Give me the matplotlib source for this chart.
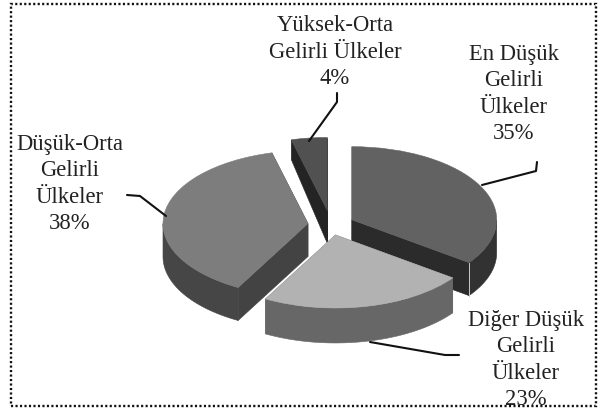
#!/usr/bin/env python3
"""Exploded pseudo-3D pie of country income groups."""

import matplotlib

matplotlib.use("Agg")

import matplotlib.pyplot as plt
import numpy as np
from matplotlib.patches import Polygon, Rectangle

labels = ["En Düşük\nGelirli\nÜlkeler\n35%", "Diğer Düşük\nGelirli\nÜlkeler\n23%",
          "Düşük-Orta\nGelirli\nÜlkeler\n38%", "Yüksek-Orta\nGelirli Ülkeler\n4%"]
values = [35, 23, 38, 4]
explode = [0.16, 0.14, 0.16, 0.20]
top_colors = ["#626262", "#b2b2b2", "#7d7d7d", "#515151"]
side_colors = ["#323232", "#676767", "#464646", "#262626"]
wall_colors = ["#2b2b2b", "#676767", "#434343", "#242424"]
draw_order = [3, 0, 2, 1]
depths_px = [33, 35, 33, 33]

label_pos = [(514, 94), (526, 360), (70, 184), (335, 52)]
leaders = [
    [(482, 186), (536, 172), (537, 163)],
    [(370, 343), (445, 356), (459, 356)],
    [(166, 217), (140, 197), (127, 196)],
    [(309, 142), (337, 103), (337, 94)],
]

W, H = 599, 414
CX, CY = 331, 226
RX, RY = 145, 73


def to_data(x_px, y_px):
    return (x_px - CX) / RX, (CY - y_px) / RY


def arc_points(center, r, theta1, theta2, n=80):
    t = np.radians(np.linspace(theta1, theta2, n))
    return np.column_stack([center[0] + r * np.cos(t), center[1] + r * np.sin(t)])


def add_extrusion(ax, wedge, side, wall, depth, z, edge_drop=1.0, seam=False):
    cx, cy = wedge.center
    r = wedge.r
    t1, t2 = wedge.theta1, wedge.theta2
    down = np.array([0, depth])
    apex = np.array([cx, cy])

    # radial walls first, the outer wall and the top face paint over them
    for t in (t1, t2):
        edge = arc_points((cx, cy), r, t, t, 1)[0]
        corners = [apex, edge, edge - down * edge_drop, apex - down]
        ax.add_patch(Polygon(corners, fc=wall, ec=wall, lw=0.4, zorder=z))

    arc = arc_points((cx, cy), r, t1, t2, 160)
    front = arc[arc[:, 1] <= cy + 1e-9]
    if len(front) > 1:
        ax.add_patch(Polygon(np.vstack([front, (front - down)[::-1]]), fc=side, ec=side, lw=0.4, zorder=z + 0.1))

    if seam:
        edge = arc_points((cx, cy), r, t1, t1, 1)[0]
        ax.plot([edge[0], edge[0]], [edge[1], edge[1] - depth], color="#c8c8c8", lw=0.7, zorder=z + 0.15)


def main() -> int:
    plt.rcParams["font.family"] = ["Liberation Serif", "DejaVu Serif"]
    fig = plt.figure(figsize=(W / 100, H / 100), dpi=100)
    ax = fig.add_axes([0, 0, 1, 1])

    wedges, _ = ax.pie(values, explode=explode, colors=top_colors, startangle=90, counterclock=False)
    ax.set_aspect("auto")
    x0, y0 = to_data(0, H)
    x1, y1 = to_data(W, 0)
    ax.set_xlim(x0, x1)
    ax.set_ylim(y0, y1)
    ax.axis("off")

    for rank, i in enumerate(draw_order):
        z = 2 + rank
        add_extrusion(ax, wedges[i], side_colors[i], wall_colors[i], depths_px[i] / RY, z,
                      edge_drop=0.6 if i == 3 else 1.0, seam=i == 0)
        wedges[i].set_zorder(z + 0.2)
        wedges[i].set_edgecolor(top_colors[i])
        wedges[i].set_linewidth(0.4)

    for path in leaders:
        pts = np.array([to_data(*p) for p in path])
        ax.plot(pts[:, 0], pts[:, 1], color="#111111", lw=1.5, solid_capstyle="round", zorder=10)

    for text, pos in zip(labels, label_pos):
        x, y = to_data(*pos)
        ax.text(x, y, text, ha="center", va="center", fontsize=16.3, color="#222222",
                linespacing=1.32, zorder=11)

    bx0, by0 = to_data(11, 407)
    bx1, by1 = to_data(596, 5)
    ax.add_patch(Rectangle((bx0, by0), bx1 - bx0, by1 - by0, fill=False, ec="#111111",
                           lw=1.7, ls=(0, (0.9, 1.0)), zorder=12))

    fig.savefig("out.png", dpi=100)
    plt.close(fig)
    return 0


if __name__ == "__main__":
    raise SystemExit(main())
